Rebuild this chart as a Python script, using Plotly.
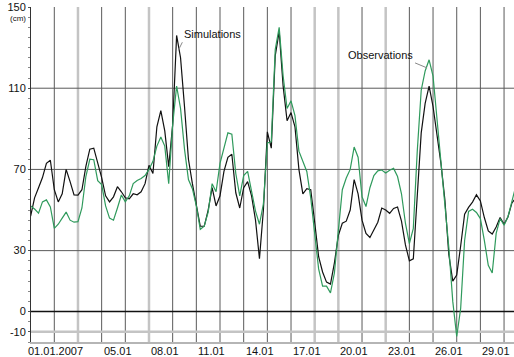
import numpy as np
import plotly.graph_objects as go

# Sea level at the station, January 2007, sampled every 6 hours.
# Time is measured in days from 01.01.2007 00:00.
t_start = -0.5
t_step = 0.25

simulations = [
    47, 56, 61, 66, 73, 74.5, 60, 54, 58, 70, 64, 57.5, 57.4, 60, 71.5, 80,
    80.5, 73.5, 66, 57, 54, 56.5, 61.5, 59, 56, 55.5, 58, 57.5, 59, 63, 72, 68,
    91, 99, 89, 71.3, 92, 136, 125, 101, 75, 63, 53, 42, 42, 50, 61, 52,
    57, 69, 76, 77.5, 58.5, 51, 61, 64, 57, 45, 26, 50, 88.5, 80.5, 126, 138,
    111, 94, 98, 91, 70, 58, 60.5, 60, 44, 27, 19.5, 14.5, 13.5, 24, 37.5, 43.5,
    44.5, 50, 65, 58, 45, 38.5, 36.5, 40, 44, 51, 50, 48.4, 50.8, 51.5, 44.5, 32.8,
    25, 26, 57, 88, 102.5, 111, 101, 88, 73, 55, 28, 15, 18, 32.3, 48, 51.3,
    53.9, 57.5, 54.5, 46.3, 39.7, 38.2, 41.6, 46.3, 43, 46.7, 53.5, 56,
]
observations = [
    52, 50.5, 48.5, 54, 55, 51.5, 41, 43, 46, 49, 45, 44, 44.3, 51, 66.5, 75,
    74.8, 64.5, 62.5, 52, 46, 45, 51, 57.4, 54, 57, 63, 64.5, 65.5, 67, 70, 74,
    81.5, 86, 81.5, 63, 92, 111, 100, 80, 65, 60.5, 52, 40.5, 42, 49, 63, 59,
    73, 81, 88, 87.3, 68, 57, 67, 69, 59, 49.5, 43, 53, 83, 83.6, 129, 140,
    116, 100, 103.8, 96.5, 79, 73.5, 69, 56, 38, 21, 12.5, 12.5, 9.2, 19, 40, 60,
    65.8, 70, 81, 76, 56.5, 51.7, 61, 67, 69.3, 69.7, 68.2, 69.6, 70.5, 66.5, 58, 43.5,
    33.5, 41, 79, 109, 118.5, 124, 116, 95, 72, 55, 31.5, 5, -12.3, 1.5, 35, 49.3,
    50.4, 48.8, 45.8, 35, 22.8, 19, 38.5, 45.8, 42.5, 46.7, 54, 62,
]
t = t_start + t_step * np.arange(len(simulations))

# Axis labelling
y_tick_values = [150, 110, 70, 30, 0, -10]
y_tick_labels = ["150", "110", "70", "30", "0", "-10"]
date_labels = ["01.01.2007", "05.01", "08.01", "11.01", "14.01",
               "17.01", "20.01", "23.01", "26.01", "29.01"]
date_positions = [1.07, 4, 7, 10, 13, 16, 19, 22, 25, 28]
day_lines = np.arange(1, 30, 1.5)          # separators every 36 h
pale_day_lines = [2.5, 7, 17.5, 19, 22]

FONT = "Liberation Sans, Arial, sans-serif"
GREEN = "#2f9a5c"

fig = go.Figure()
fig.add_trace(go.Scatter(x=t, y=simulations, mode="lines", name="Simulations",
                         line=dict(color="#111111", width=1.2)))
fig.add_trace(go.Scatter(x=t, y=observations, mode="lines", name="Observations",
                         line=dict(color=GREEN, width=1.2)))

# Vertical day separators (a few drawn lighter)
for d in day_lines:
    pale = any(abs(d - p) < 1e-6 for p in pale_day_lines)
    fig.add_shape(type="line", xref="x", x0=d, x1=d, yref="paper", y0=0, y1=1,
                  line=dict(color="#c4c4c4" if pale else "#5a5a5a",
                            width=2.5 if pale else 1),
                  layer="below")

# Horizontal reference lines
for level, color, width in [(110, "#5a5a5a", 1), (70, "#5a5a5a", 1), (30, "#5a5a5a", 1),
                            (0, "#111111", 1.6), (-10, "#c4c4c4", 2.5)]:
    fig.add_shape(type="line", xref="paper", x0=0, x1=1, yref="y", y0=level, y1=level,
                  line=dict(color=color, width=width), layer="below")

# Date labels under the axis
for text, pos in zip(date_labels, date_positions):
    fig.add_annotation(x=pos, xref="x", y=0, yref="paper", text=text,
                       showarrow=False, xanchor="center" if "2007" in text else "left",
                       yanchor="top", yshift=-1,
                       font=dict(family=FONT, size=11, color="#111111"))

fig.add_annotation(x=0, xref="paper", xanchor="right", xshift=-3, y=144.5, yref="y",
                   yanchor="middle", text="(cm)", showarrow=False,
                   font=dict(family=FONT, size=8, color="#111111"))

# Series call-outs
fig.add_annotation(x=8.86, y=128.7, text="Simulations", showarrow=True, arrowhead=0,
                   arrowwidth=1, arrowcolor="#888888", ax=4, ay=-8,
                   xanchor="left", yanchor="bottom",
                   font=dict(family=FONT, size=11, color="#111111"))
fig.add_annotation(x=24.62, y=120, text="Observations", showarrow=True, arrowhead=0,
                   arrowwidth=1, arrowcolor="#888888", ax=-12, ay=-5,
                   xanchor="right", yanchor="bottom",
                   font=dict(family=FONT, size=11, color="#111111"))

fig.update_layout(
    width=514, height=357,
    margin=dict(l=31, r=0, t=7, b=15),
    paper_bgcolor="white", plot_bgcolor="rgba(0,0,0,0)",
    showlegend=False,
    font=dict(family=FONT, size=11, color="#111111"),
)
fig.update_xaxes(
    range=[-0.477, 30.13], showgrid=False,
    showticklabels=False, ticks="", zeroline=False,
    showline=True, linecolor="#b5b5b5", linewidth=2,
)
fig.update_yaxes(
    range=[-15, 150], tickmode="array", tickvals=y_tick_values, ticktext=y_tick_labels,
    showgrid=False, zeroline=False,
    showline=True, linecolor="#333333", linewidth=1,
    ticks="outside", ticklen=2, tickcolor="#555555",
    minor=dict(ticks="outside", dtick=5, tick0=0, ticklen=2, tickcolor="#888888"),
    tickfont=dict(family=FONT, size=11, color="#111111"),
)

fig.write_html("out.html")
